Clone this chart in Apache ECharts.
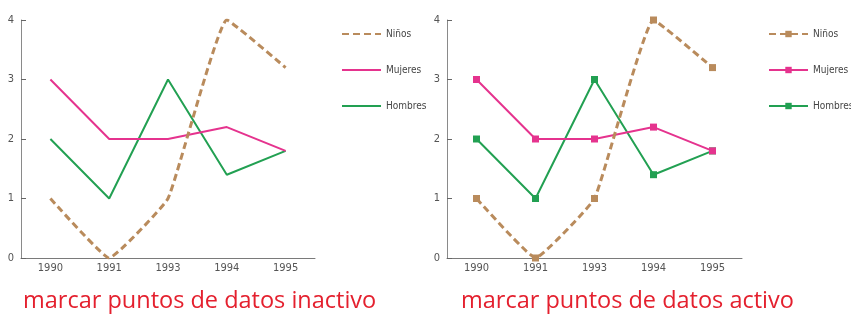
<html>
<head>
    <meta charset="utf-8" />
    <script src="https://cdn.jsdelivr.net/npm/echarts@6/dist/echarts.min.js"></script>
    <style>
        html, body { margin: 0; padding: 0; background: #fff; }
        #chart { width: 851px; height: 316px; }
    </style>
</head>
<body>
    <div id="chart"></div>
    <script>
        // data
        var years = ['1990', '1991', '1993', '1994', '1995'];
        var ninos = [1, 0, 1, 4, 3.2];
        var mujeres = [3, 2, 2, 2.2, 1.8];
        var hombres = [2, 1, 3, 1.4, 1.8];
        var seriesNames = ['Niños', 'Mujeres', 'Hombres'];
        var titles = ['marcar puntos de datos inactivo', 'marcar puntos de datos activo'];

        var colors = ['#b98b5c', '#e5338e', '#22a052'];
        var narrow = '"Liberation Sans Narrow", "DejaVu Sans Condensed", sans-serif';

        var myChart = echarts.init(document.getElementById('chart'));

        //----------------------------------
        function makeAxes(idx) {
            return {
                x: {
                    type: 'category',
                    gridIndex: idx,
                    data: years,
                    boundaryGap: true,
                    axisLine: { lineStyle: { color: '#7a7a7a', width: 1 } },
                    axisTick: { inside: true, alignWithLabel: true, length: 5, lineStyle: { color: '#555' } },
                    axisLabel: { color: '#555', fontSize: 11, fontFamily: narrow, margin: 5 }
                },
                y: {
                    type: 'value',
                    gridIndex: idx,
                    min: 0, max: 4, interval: 1,
                    axisLine: { show: true, lineStyle: { color: '#8a8a8a', width: 1 } },
                    axisTick: { show: true, inside: true, length: 5, lineStyle: { color: '#666' } },
                    axisLabel: { color: '#555', fontSize: 11, fontFamily: narrow, margin: 7 },
                    splitLine: { show: false }
                }
            };
        }

        var a0 = makeAxes(0), a1 = makeAxes(1);
        var dataSets = [ninos, mujeres, hombres];
        var series = [];
        [0, 1].forEach(function (g) {
            dataSets.forEach(function (d, i) {
                series.push({
                    name: seriesNames[i] + (g ? '_2' : ''),
                    type: 'line',
                    xAxisIndex: g,
                    yAxisIndex: g,
                    data: d,
                    smooth: i === 0 ? 0.1 : false,
                    symbol: g ? 'rect' : 'none',
                    symbolSize: 7,
                    showSymbol: g === 1,
                    color: colors[i],
                    itemStyle: { color: colors[i] },
                    lineStyle: {
                        color: colors[i],
                        width: i === 0 ? 3 : 2,
                        type: i === 0 ? [7, 4] : 'solid'
                    },
                    z: 3 - i
                });
            });
        });

        var legendBase = {
            orient: 'vertical',
            top: 24,
            itemWidth: 39,
            itemHeight: 8,
            itemGap: 26,
            textStyle: { color: '#444', fontSize: 10, fontFamily: narrow },
            formatter: function (n) { return n.replace('_2', ''); }
        };

        var option = {
            animation: false,
            title: [
                { text: titles[0], left: 18, top: 284, textStyle: { color: '#e4202e', fontSize: 23.5, fontWeight: 'normal', fontFamily: '"Open Sans", sans-serif' } },
                { text: titles[1], left: 456, top: 284, textStyle: { color: '#e4202e', fontSize: 23.5, fontWeight: 'normal', fontFamily: '"Open Sans", sans-serif' } }
            ],
            legend: [
                Object.assign({}, legendBase, { left: 336, data: seriesNames, itemStyle: { opacity: 0 } }),
                Object.assign({}, legendBase, { left: 763, data: seriesNames.map(function (n) { return n + '_2'; }) })
            ],
            grid: [
                { left: 21, top: 20, width: 294, height: 238 },
                { left: 447, top: 20, width: 295, height: 238 }
            ],
            xAxis: [a0.x, a1.x],
            yAxis: [a0.y, a1.y],
            series: series
        };

        myChart.setOption(option);
    </script>
</body>
</html>
